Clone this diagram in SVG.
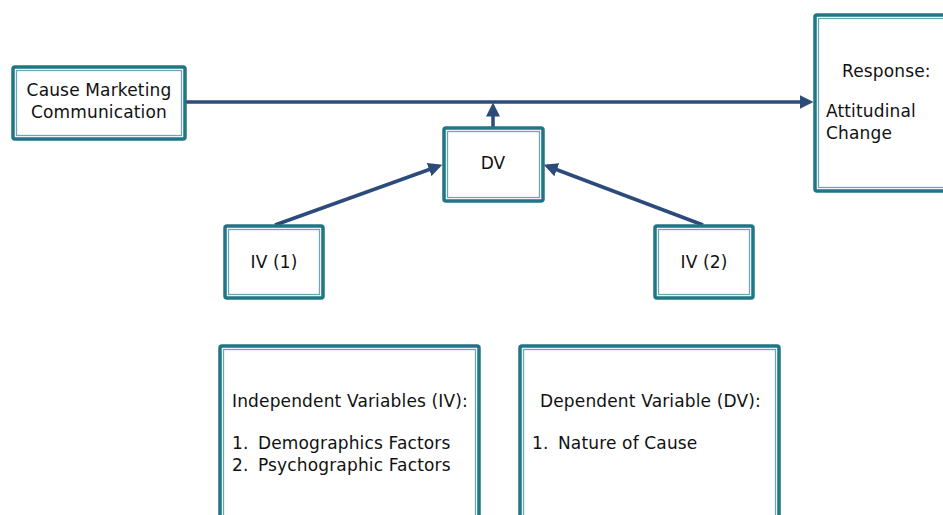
<svg xmlns="http://www.w3.org/2000/svg" width="943" height="515" viewBox="0 0 943 515">
<style>
.o{fill:#fff;stroke:#207587;stroke-width:3.5}
.i{fill:none;stroke:#6fa6b3;stroke-width:1.3}
.t{font-family:"DejaVu Sans",Verdana,sans-serif;font-size:17px;letter-spacing:0.15px;fill:#111}
.c{stroke:#2d4b7a;stroke-width:3.5;fill:none}
</style>
<defs>
<marker id="a" markerWidth="4" markerHeight="4" refX="3" refY="2" orient="auto" markerUnits="strokeWidth">
<path d="M0,0 L4,2 L0,4 z" fill="#2d4b7a"/>
</marker>
</defs>
<g id="connectors">
<path class="c" d="M186,102 H810" marker-end="url(#a)"/>
<path class="c" d="M493,127 V106" marker-end="url(#a)"/>
<path class="c" d="M275,225 L439,166" marker-end="url(#a)"/>
<path class="c" d="M703,225 L547,166" marker-end="url(#a)"/>
</g>
<g id="cause">
<rect class="o" x="13" y="67" width="172" height="72" rx="2"/>
<rect class="i" x="16.5" y="70.5" width="165" height="65"/>
<text class="t" x="99" y="96" text-anchor="middle">Cause Marketing</text>
<text class="t" x="99" y="118" text-anchor="middle">Communication</text>
</g>
<g id="dv">
<rect class="o" x="444" y="128" width="99" height="73" rx="2"/>
<rect class="i" x="447.5" y="131.5" width="92" height="66"/>
<text class="t" x="493" y="169" text-anchor="middle">DV</text>
</g>
<g id="response">
<rect class="o" x="815" y="15" width="140" height="176" rx="2"/>
<rect class="i" x="818.5" y="18.5" width="133" height="169"/>
<text class="t" x="842" y="77">Response:</text>
<text class="t" x="826" y="117">Attitudinal</text>
<text class="t" x="826" y="139">Change</text>
</g>
<g id="iv1">
<rect class="o" x="225" y="226" width="98" height="72" rx="2"/>
<rect class="i" x="228.5" y="229.5" width="91" height="65"/>
<text class="t" x="274" y="268" text-anchor="middle">IV (1)</text>
</g>
<g id="iv2">
<rect class="o" x="655" y="226" width="98" height="72" rx="2"/>
<rect class="i" x="658.5" y="229.5" width="91" height="65"/>
<text class="t" x="704" y="268" text-anchor="middle">IV (2)</text>
</g>
<g id="ivbox">
<rect class="o" x="220" y="346" width="259" height="190" rx="2"/>
<rect class="i" x="223.5" y="349.5" width="252" height="183"/>
<text class="t" x="232" y="407">Independent Variables (IV):</text>
<text class="t" x="232" y="449">1.</text>
<text class="t" x="258" y="449">Demographics Factors</text>
<text class="t" x="232" y="471">2.</text>
<text class="t" x="258" y="471">Psychographic Factors</text>
</g>
<g id="dvbox">
<rect class="o" x="520" y="346" width="259" height="190" rx="2"/>
<rect class="i" x="523.5" y="349.5" width="252" height="183"/>
<text class="t" x="540" y="407">Dependent Variable (DV):</text>
<text class="t" x="532" y="449">1.</text>
<text class="t" x="558" y="449">Nature of Cause</text>
</g>
</svg>
